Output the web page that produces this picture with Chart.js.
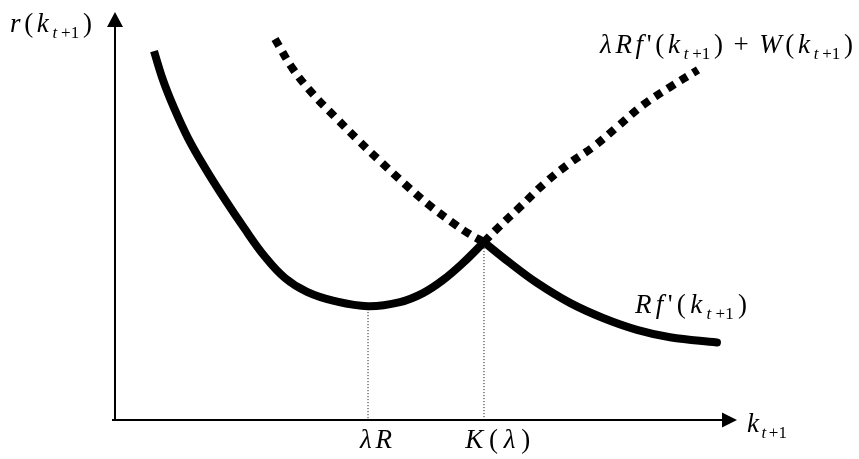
<!DOCTYPE html>
<html>
<head>
    <title>r(k) curves</title>
    <style>
        body {
            margin: 0;
            background: #ffffff;
        }
        #chart-container {
            width: 859px;
            height: 459px;
        }
    </style>
    <script src="https://cdn.jsdelivr.net/npm/chart.js"></script>
</head>
<body>
    <div id="chart-container">
        <canvas id="returnChart"></canvas>
    </div>
    <script>
        // Rf'(k) : solid curve, left part down to the kink, then the falling tail
        const rfLeftK = [6.27, 7.72, 9.49, 11.74, 14.47, 17.52, 20.74, 24.12, 27.33, 30.87, 35.21, 40.68, 45.82, 49.52, 52.73, 55.95, 59.32];
        const rfLeftR = [90.4, 83.3, 76.5, 69.1, 61.8, 54.4, 47.1, 40.0, 34.8, 31.4, 29.2, 27.9, 28.9, 31.1, 34.3, 38.5, 43.6];
        const rfRightK = [59.32, 63.50, 67.85, 73.15, 78.46, 83.92, 89.23, 96.78];
        const rfRightR = [43.6, 38.5, 33.6, 28.7, 25.0, 22.1, 20.3, 19.0];

        // lambda R f'(k) + W(k) : dashed curve, both sides of K(lambda)
        const wLeftK = [25.72, 28.62, 31.83, 35.37, 39.07, 42.93, 46.62, 50.32, 54.34, 56.75, 59.32];
        const wLeftR = [93.4, 86.0, 79.9, 74.3, 68.6, 63.0, 57.8, 52.9, 48.3, 45.8, 43.6];
        const wRightK = [59.32, 61.58, 65.11, 69.13, 73.15, 76.85, 80.71, 84.89, 89.23, 93.73];
        const wRightR = [43.6, 47.1, 52.2, 58.1, 63.0, 66.9, 71.8, 77.2, 81.6, 85.8];

        // marked points on the k axis: lambda R and K(lambda)
        const tickLabels = ['λR', 'K(λ)'];
        const tickK = [40.68, 59.32];
        const tickR = [27.9, 43.6];

        const toPoints = (xs, ys) => xs.map((x, i) => ({ x: x, y: ys[i] }));

        // text pieces: i = italic, u = upright, si / su = subscript
        const labels = [
            { k: -16.9, r: 95.1, width: 82, parts: [['r', 'i'], ['(', 'u'], ['k', 'i'], ['t', 'si'], ['+1', 'su'], [')', 'u']] },
            { k: 77.97, r: 89.95, width: 253, parts: [['λ', 'i'], ['R', 'i'], ['f', 'i'], ["'", 'u'], ['(', 'u'], ['k', 'i'], ['t', 'si'], ['+1', 'su'], [')', 'u'], [' + ', 'u'], ['W', 'i'], ['(', 'u'], ['k', 'i'], ['t', 'si'], ['+1', 'su'], [')', 'u']] },
            { k: 83.6, r: 26.2, width: 112, parts: [['R', 'i'], ['f', 'i'], ["'", 'u'], ['(', 'u'], ['k', 'i'], ['t', 'si'], ['+1', 'su'], [')', 'u']] },
            { k: 101.6, r: -2.9, width: 40, parts: [['k', 'i'], ['t', 'si'], ['+1', 'su']] },
            { k: 39.4, r: -6.9, width: 32, parts: [['λ', 'i'], ['R', 'i']] },
            { k: 56.3, r: -6.9, width: 65, parts: [['K', 'i'], ['(', 'u'], ['λ', 'i'], [')', 'u']] }
        ];

        function fontFor(kind) {
            const size = kind.charAt(0) === 's' ? 17 : 27;
            const style = kind.indexOf('i') >= 0 ? 'italic ' : '';
            return style + size + 'px "Liberation Serif"';
        }

        const axisArrows = {
            id: 'axisArrows',
            beforeDatasetsDraw(chart) {
                const { ctx, chartArea: a } = chart;
                ctx.save();
                ctx.strokeStyle = '#000';
                ctx.fillStyle = '#000';
                ctx.lineWidth = 2;
                ctx.beginPath();
                ctx.moveTo(a.left, a.bottom);
                ctx.lineTo(a.left, a.top + 14);
                ctx.moveTo(a.left - 3, a.bottom);
                ctx.lineTo(a.right - 14, a.bottom);
                ctx.stroke();
                ctx.beginPath();
                ctx.moveTo(a.left, a.top);
                ctx.lineTo(a.left - 8, a.top + 15);
                ctx.lineTo(a.left + 8, a.top + 15);
                ctx.closePath();
                ctx.moveTo(a.right, a.bottom);
                ctx.lineTo(a.right - 15, a.bottom - 7.5);
                ctx.lineTo(a.right - 15, a.bottom + 7.5);
                ctx.closePath();
                ctx.fill();
                ctx.restore();
            }
        };

        const mathLabels = {
            id: 'mathLabels',
            afterDraw(chart) {
                const ctx = chart.ctx;
                const xs = chart.scales.x;
                const ys = chart.scales.y;
                ctx.save();
                ctx.fillStyle = '#000';
                ctx.textBaseline = 'alphabetic';
                ctx.textAlign = 'left';
                labels.forEach(function(lab) {
                    // spread spare room evenly between the pieces
                    let natural = 0;
                    const widths = lab.parts.map(function(p) {
                        ctx.font = fontFor(p[1]);
                        const w = ctx.measureText(p[0]).width;
                        natural += w;
                        return w;
                    });
                    const gap = lab.parts.length > 1 ? Math.max(0, lab.width - natural) / (lab.parts.length - 1) : 0;
                    let x = xs.getPixelForValue(lab.k);
                    const base = ys.getPixelForValue(lab.r);
                    lab.parts.forEach(function(p, i) {
                        ctx.font = fontFor(p[1]);
                        ctx.fillText(p[0], x, p[1].charAt(0) === 's' ? base + 6 : base);
                        x += widths[i] + gap;
                    });
                });
                ctx.restore();
            }
        };

        const solid = { borderColor: '#000', borderWidth: 8, borderCapStyle: 'butt', tension: 0.4 };
        const dashed = { borderColor: '#000', borderWidth: 8, borderDash: [8, 7], borderCapStyle: 'butt', tension: 0.4 };
        const dotted = { borderColor: '#000', borderWidth: 1, borderDash: [1, 2], tension: 0 };

        const datasets = [
            Object.assign({ label: 'Rf left', data: toPoints(rfLeftK, rfLeftR) }, solid),
            Object.assign({ label: 'Rf right', data: toPoints(rfRightK, rfRightR) }, solid, { borderCapStyle: 'round' }),
            Object.assign({ label: 'W left', data: toPoints(wLeftK, wLeftR) }, dashed),
            Object.assign({ label: 'W right', data: toPoints(wRightK, wRightR) }, dashed)
        ];
        tickK.forEach(function(k, i) {
            datasets.push(Object.assign({ label: tickLabels[i], data: [{ x: k, y: tickR[i] }, { x: k, y: 0 }] }, dotted));
        });

        function drawChart() {
            new Chart(document.getElementById('returnChart').getContext('2d'), {
                type: 'line',
                data: { datasets: datasets },
                options: {
                    responsive: true,
                    maintainAspectRatio: false,
                    animation: false,
                    layout: { padding: { left: 115, right: 122, top: 12, bottom: 39 } },
                    elements: { point: { radius: 0, hoverRadius: 0 }, line: { fill: false } },
                    datasets: { line: { clip: false } },
                    scales: {
                        x: { type: 'linear', min: 0, max: 100, display: false },
                        y: { type: 'linear', min: 0, max: 100, display: false }
                    },
                    plugins: {
                        legend: { display: false },
                        tooltip: { enabled: false }
                    }
                },
                plugins: [axisArrows, mathLabels]
            });
        }

        // canvas text needs the serif faces ready before the first draw
        Promise.all([
            document.fonts.load('italic 27px "Liberation Serif"', 'λRkK'),
            document.fonts.load('27px "Liberation Serif"', '()+1')
        ]).then(drawChart, drawChart);
    </script>
</body>
</html>
